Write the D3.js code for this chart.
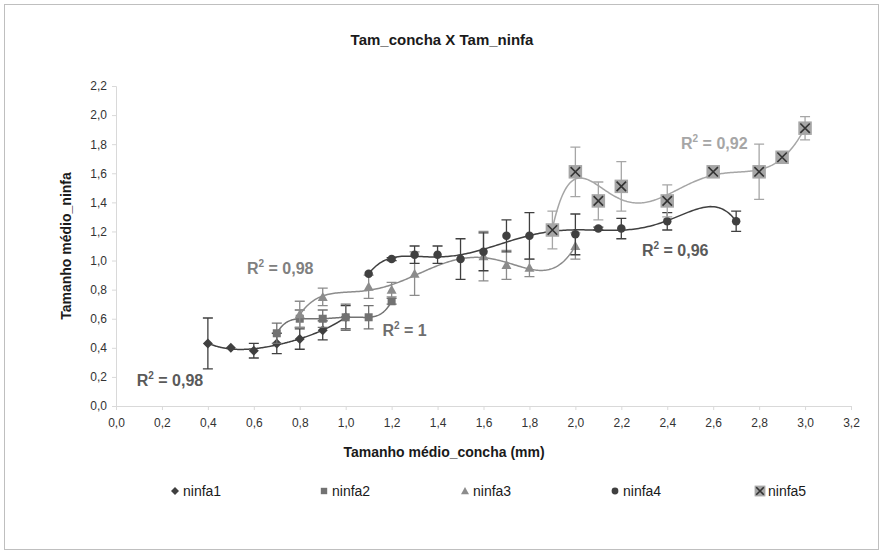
<!DOCTYPE html>
<html>
<head>
<meta charset="utf-8">
<script src="https://cdn.jsdelivr.net/npm/d3@7"></script>
<style>
  body { margin: 0; background: #fff; }
  text { font-family: "Liberation Sans", Arial, sans-serif; }
</style>
</head>
<body>
<div class="chart"></div>
<script>
const svgSize = { width: 883, height: 554 };
const margin = { top: 86, right: 32, bottom: 148, left: 116 };
const width  = svgSize.width  - margin.left - margin.right;
const height = svgSize.height - margin.top  - margin.bottom;

// data
const seriesNames = ['ninfa1', 'ninfa2', 'ninfa3', 'ninfa4', 'ninfa5'];

const xN1 = [0.4, 0.5, 0.6, 0.7, 0.8, 0.9, 1.0];
const yN1 = [0.43, 0.40, 0.38, 0.43, 0.46, 0.52, 0.61];
const eN1 = [0.175, 0, 0.05, 0.07, 0.07, 0.065, 0.08];

const xN2 = [0.7, 0.8, 0.9, 1.0, 1.1, 1.2];
const yN2 = [0.50, 0.60, 0.60, 0.61, 0.61, 0.72];
const eN2 = [0.07, 0.06, 0.06, 0.09, 0.08, 0.02];

const xN3 = [0.8, 0.9, 1.1, 1.2, 1.3, 1.6, 1.7, 1.8, 2.0];
const yN3 = [0.63, 0.75, 0.82, 0.80, 0.91, 1.03, 0.97, 0.95, 1.10];
const eN3 = [0.09, 0.06, 0.08, 0.05, 0.15, 0.17, 0.10, 0.06, 0.09];

const xN4 = [1.1, 1.2, 1.3, 1.4, 1.5, 1.6, 1.7, 1.8, 2.0, 2.1, 2.2, 2.4, 2.7];
const yN4 = [0.91, 1.01, 1.04, 1.04, 1.01, 1.06, 1.17, 1.17, 1.18, 1.22, 1.22, 1.27, 1.27];
const eN4 = [0, 0.01, 0.06, 0.06, 0.14, 0.13, 0.11, 0.16, 0.14, 0.01, 0.07, 0.06, 0.07];

const xN5 = [1.9, 2.0, 2.1, 2.2, 2.4, 2.6, 2.8, 2.9, 3.0];
const yN5 = [1.21, 1.61, 1.41, 1.51, 1.41, 1.61, 1.61, 1.71, 1.91];
const eN5 = [0.13, 0.17, 0.13, 0.17, 0.11, 0, 0.19, 0, 0.08];

const r2Labels = ['0,98', '1', '0,98', '0,96', '0,92'];
const polyOrders = [4, 5, 6, 6, 6];

const xTicks = d3.range(0, 3.21, 0.2);
const yTicks = d3.range(0, 2.21, 0.2);

const styles = [
    { color: '#404040', shape: 'diamond', lab: { x: 0.09, y: 0.14, color: '#5a5a5a' } },
    { color: '#727272', shape: 'square',  lab: { x: 1.16, y: 0.48, color: '#6e6e6e' } },
    { color: '#8c8c8c', shape: 'triangle', lab: { x: 0.57, y: 0.91, color: '#808080' } },
    { color: '#404040', shape: 'circle',  lab: { x: 2.29, y: 1.03, color: '#5a5a5a' } },
    { color: '#a6a6a6', shape: 'xbox',    lab: { x: 2.46, y: 1.77, color: '#a6a6a6' } },
];

const series = [
    [xN1, yN1, eN1], [xN2, yN2, eN2], [xN3, yN3, eN3], [xN4, yN4, eN4], [xN5, yN5, eN5]
].map(([xs, ys, es], i) => ({
    name: seriesNames[i],
    points: xs.map((x, k) => ({ x, y: ys[k], e: es[k] })),
    order: polyOrders[i],
    r2: r2Labels[i],
    ...styles[i],
}));

// least squares polynomial, like the excel trendline
const polyfit = (pts, order) => {
    const xs = pts.map(p => p.x);
    const mx = d3.mean(xs), sx = d3.deviation(xs) || 1;
    const n = order + 1;
    const A = Array.from({ length: n }, () => new Array(n + 1).fill(0));
    pts.forEach(p => {
        const t = (p.x - mx) / sx;
        const pw = d3.range(n).map(i => Math.pow(t, i));
        for (let i = 0; i < n; i++) {
            for (let j = 0; j < n; j++) A[i][j] += pw[i] * pw[j];
            A[i][n] += pw[i] * p.y;
        }
    });
    for (let c = 0; c < n; c++) {
        let piv = c;
        for (let r = c + 1; r < n; r++) if (Math.abs(A[r][c]) > Math.abs(A[piv][c])) piv = r;
        [A[c], A[piv]] = [A[piv], A[c]];
        for (let r = 0; r < n; r++) {
            if (r === c) continue;
            const f = A[r][c] / A[c][c];
            for (let k = c; k <= n; k++) A[r][k] -= f * A[c][k];
        }
    }
    const coef = A.map((row, i) => row[n] / row[i]);
    return x => {
        const t = (x - mx) / sx;
        return coef.reduce((s, c, i) => s + c * Math.pow(t, i), 0);
    };
};

const svg = d3.select('.chart')
    .append('svg')
    .attr('width', svgSize.width)
    .attr('height', svgSize.height)
;

svg.append('rect')
    .attr('x', 4.5).attr('y', 4.5)
    .attr('width', 874).attr('height', 545)
    .attr('fill', '#fff')
    .attr('stroke', '#bfbfbf')
;

const graph = svg.append('g')
    .attr('transform', `translate(${margin.left}, ${margin.top})`)
;

const xScale = d3.scaleLinear().domain([0, 3.2]).range([0, width]);
const yScale = d3.scaleLinear().domain([0, 2.2]).range([height, 0]);
const fmt = d => d3.format('.1f')(d).replace('.', ',');

const xAxis = graph.append('g')
    .attr('transform', `translate(0, ${height})`)
    .call(d3.axisBottom(xScale).tickValues(xTicks).tickFormat(fmt).tickSizeOuter(0).tickSize(4).tickPadding(8))
;
const yAxis = graph.append('g')
    .call(d3.axisLeft(yScale).tickValues(yTicks).tickFormat(fmt).tickSizeOuter(0).tickSize(4).tickPadding(5))
;
[xAxis, yAxis].forEach(a => {
    a.select('.domain').attr('stroke', '#d9d9d9');
    a.selectAll('.tick line').attr('stroke', '#d9d9d9');
    a.selectAll('.tick text').attr('fill', '#333').attr('font-size', 12);
});

svg.append('text')
    .attr('x', 442).attr('y', 45)
    .attr('text-anchor', 'middle')
    .attr('font-size', 15).attr('font-weight', 'bold').attr('fill', '#1a1a1a')
    .text('Tam_concha X Tam_ninfa')
;
svg.append('text')
    .attr('x', 444).attr('y', 457)
    .attr('text-anchor', 'middle')
    .attr('font-size', 14).attr('font-weight', 'bold').attr('fill', '#1a1a1a')
    .text('Tamanho médio_concha (mm)')
;
svg.append('text')
    .attr('transform', 'translate(71, 246) rotate(-90)')
    .attr('text-anchor', 'middle')
    .attr('font-size', 14).attr('font-weight', 'bold').attr('fill', '#1a1a1a')
    .text('Tamanho médio_ninfa')
;

const drawMarker = (g, shape, color, s) => {
    if (shape === 'diamond') {
        g.append('path').attr('d', `M0,${-s}L${s},0L0,${s}L${-s},0Z`).attr('fill', color);
    } else if (shape === 'square') {
        g.append('rect').attr('x', -s * 0.8).attr('y', -s * 0.8).attr('width', s * 1.6).attr('height', s * 1.6).attr('fill', color);
    } else if (shape === 'triangle') {
        g.append('path').attr('d', `M0,${-s}L${s},${s * 0.8}L${-s},${s * 0.8}Z`).attr('fill', color);
    } else if (shape === 'circle') {
        g.append('circle').attr('r', s * 0.85).attr('fill', color);
    } else {
        const b = s * 1.35;
        g.append('rect').attr('x', -b).attr('y', -b).attr('width', 2 * b).attr('height', 2 * b).attr('fill', color);
        const c = b * 0.7;
        g.append('path').attr('d', `M${-c},${-c}L${c},${c}M${c},${-c}L${-c},${c}`)
            .attr('stroke', '#333').attr('stroke-width', 1.6);
    }
};

const line = d3.line().x(d => xScale(d.x)).y(d => yScale(d.y)).curve(d3.curveLinear);

series.forEach(s => {
    const g = graph.append('g').attr('class', s.name);
    const fit = polyfit(s.points, s.order);
    const [x0, x1] = d3.extent(s.points, p => p.x);
    const samples = d3.range(0, 201).map(i => {
        const x = x0 + (x1 - x0) * i / 200;
        return { x, y: fit(x) };
    });
    g.append('path')
        .attr('d', line(samples))
        .attr('fill', 'none')
        .attr('stroke', s.color)
        .attr('stroke-width', 1.5)
    ;

    g.selectAll('.err').data(s.points.filter(p => p.e > 0)).enter()
        .append('path')
        .attr('d', p => {
            const x = xScale(p.x), yt = yScale(p.y + p.e), yb = yScale(p.y - p.e);
            return `M${x},${yt}V${yb}M${x - 5},${yt}H${x + 5}M${x - 5},${yb}H${x + 5}`;
        })
        .attr('fill', 'none')
        .attr('stroke', s.color)
        .attr('stroke-width', 1.3)
    ;

    s.points.forEach(p => {
        const m = g.append('g').attr('transform', `translate(${xScale(p.x)}, ${yScale(p.y)})`);
        drawMarker(m, s.shape, s.color, 5);
    });

    const t = graph.append('text')
        .attr('x', xScale(s.lab.x)).attr('y', yScale(s.lab.y))
        .attr('font-size', 16).attr('font-weight', 'bold')
        .attr('fill', s.lab.color)
    ;
    t.append('tspan').text('R');
    t.append('tspan').attr('dy', -7).attr('font-size', 10).text('2');
    t.append('tspan').attr('dy', 7).text(` = ${s.r2}`);
});

// legend
const legendX = [175, 324, 465, 615, 760];
const legend = svg.append('g').attr('transform', 'translate(0, 491)');
series.forEach((s, i) => {
    const m = legend.append('g').attr('transform', `translate(${legendX[i]}, 0)`);
    drawMarker(m, s.shape, s.color, 4);
    legend.append('text')
        .attr('x', legendX[i] + 8).attr('y', 5)
        .attr('font-size', 14).attr('fill', '#1a1a1a')
        .text(s.name);
});
</script>
</body>
</html>
